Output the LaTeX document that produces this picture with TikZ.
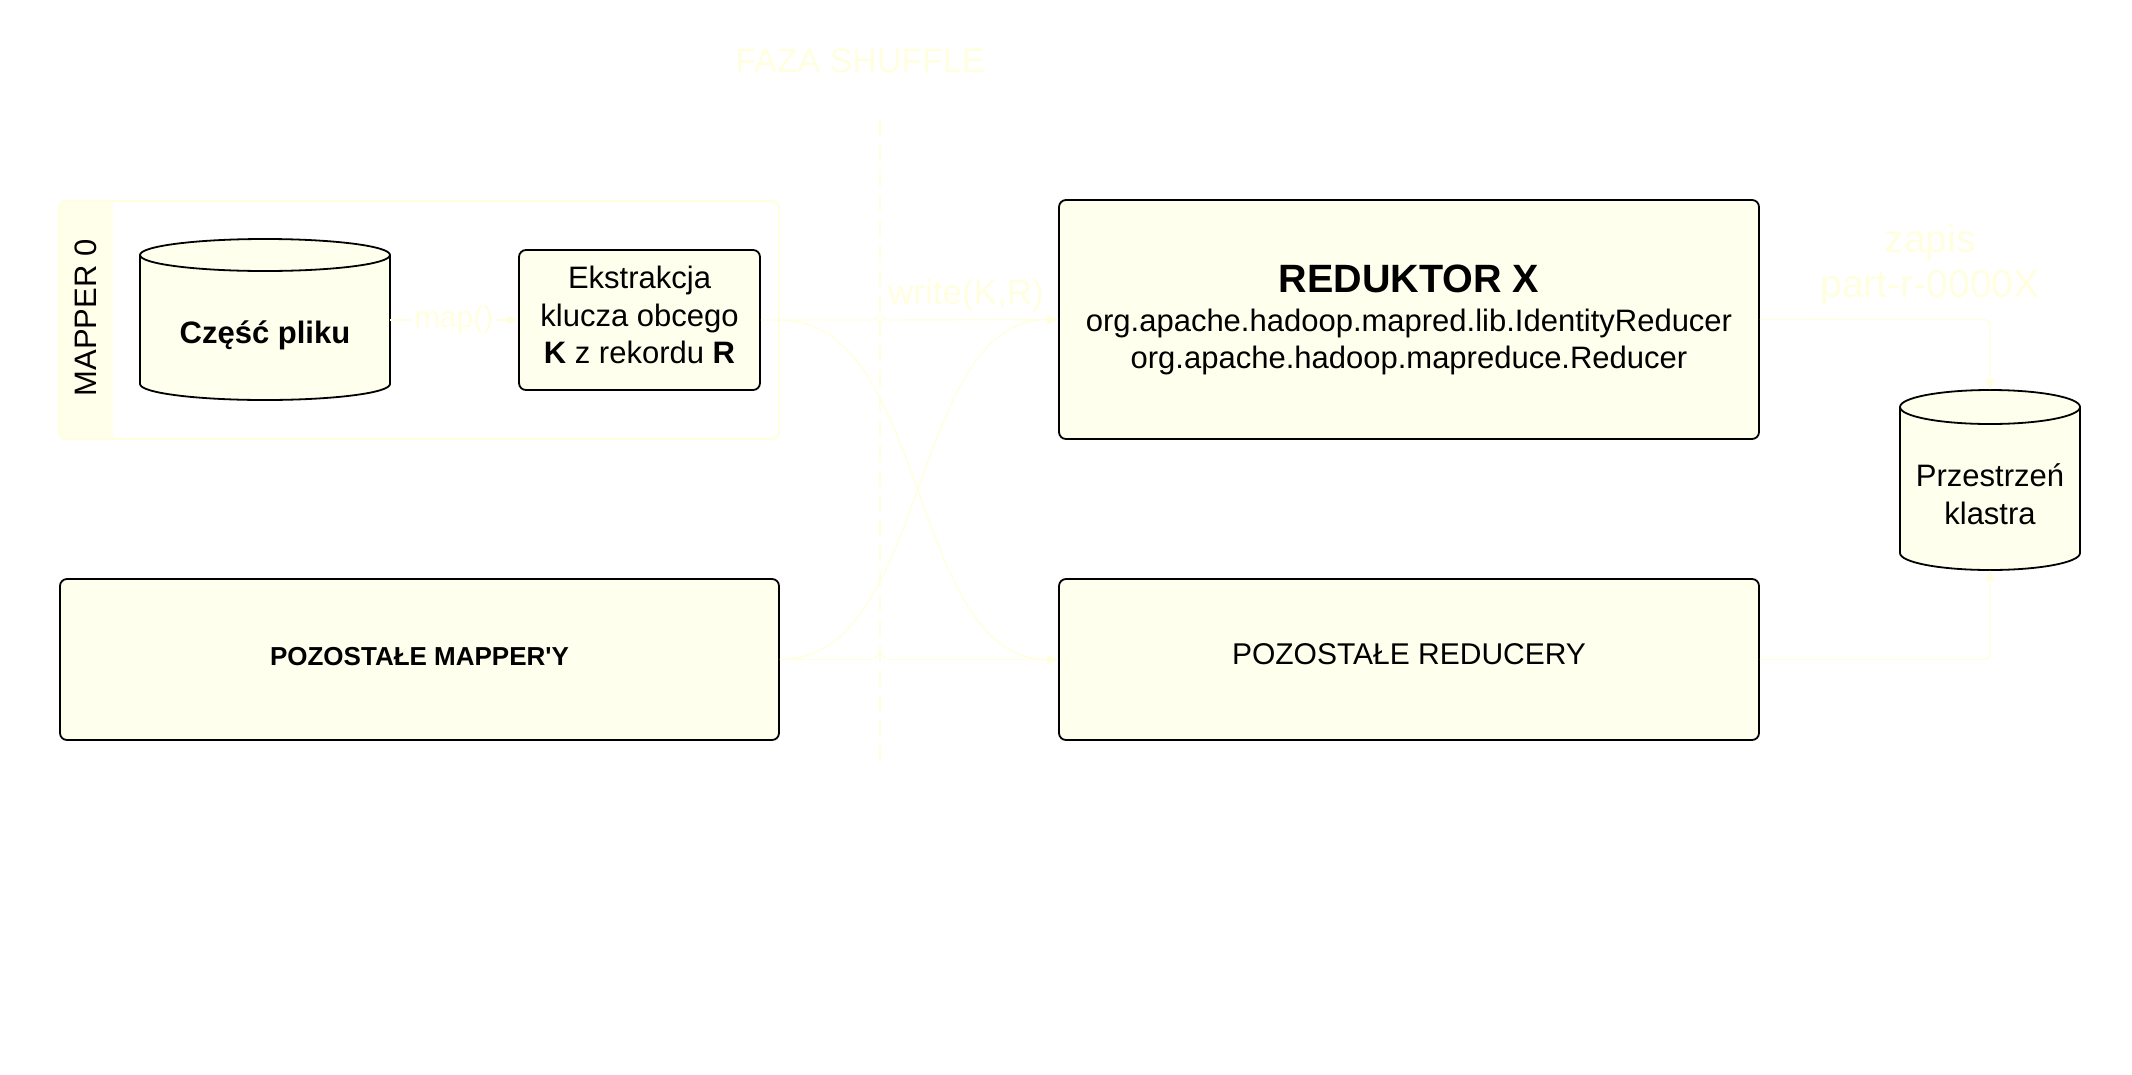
\documentclass[tikz,border=0pt]{standalone}
\usepackage{fontspec}
\setmainfont{Liberation Sans}
\newfontfamily\arialplain{Liberation Sans}
\usetikzlibrary{arrows.meta}
\definecolor{boxfill}{HTML}{FFFFEE}
\definecolor{faint}{HTML}{FFFFE0}
\definecolor{bandfill}{HTML}{FFFFEA}
\tikzset{
  box/.style={draw=black, line width=1.8pt, fill=boxfill, rounded corners=7pt, inner sep=0pt},
  txt/.style={inner sep=0pt, align=center, text=black, font=\fontsize{31}{37.5}\selectfont},
  faintline/.style={draw=faint, line width=1.4pt},
  arr/.style={faintline, -{Triangle[length=11pt,width=9pt]}},
  ftxt/.style={text=faint, inner sep=0pt, align=center},
  cylbody/.style={fill=boxfill, draw=black, line width=1.8pt},
}
\begin{document}
\begin{tikzpicture}[x=1pt,y=-1pt]
\useasboundingbox (0,0) rectangle (2132,1074);

% title
\node[ftxt, font=\fontsize{34}{40}\selectfont] (faza) at (860,61) {FAZA SHUFFLE};

% shuffle divider
\draw[draw=faint, line width=2pt, dash pattern=on 17pt off 8pt] (880,120) -- (880,767);

% mapper 0 container
\begin{scope}
  \clip[rounded corners=7pt] (59,201) rectangle (779,439);
  \fill[bandfill] (59,201) rectangle (113,439);
\end{scope}
\node[draw=faint, line width=2pt, rounded corners=7pt, inner sep=0pt,
      minimum width=720pt, minimum height=238pt] (m0) at (419,320) {};
\node[txt, rotate=90] (m0lab) at (86,318) {MAPPER 0};

% cylinder: Czesc pliku
\node[inner sep=0pt, minimum width=250pt, minimum height=161pt] (cyl1) at (265,319.5) {};
\path[cylbody] (140,255) -- (140,384)
   arc[start angle=180, end angle=360, x radius=125pt, y radius=16pt]
   -- (390,255)
   arc[start angle=0, end angle=180, x radius=125pt, y radius=16pt] -- cycle;
\draw[line width=1.8pt] (140,255) arc[start angle=180, end angle=360, x radius=125pt, y radius=16pt];
\node[txt, font=\bfseries\fontsize{31}{37}\selectfont] (cyl1t) at (265,335) {Część pliku};

% Ekstrakcja
\node[box, minimum width=241pt, minimum height=140pt] (ekst) at (639.5,320) {};
\node[txt] (ekstt) at (639.5,315) {Ekstrakcja\\klucza obcego\\\textbf{K} z rekordu \textbf{R}};

% Reduktor X
\node[box, minimum width=700pt, minimum height=239pt] (red) at (1409,319.5) {};
\node[txt, font=\bfseries\fontsize{39.5}{45}\selectfont] (redt) at (1409,279) {REDUKTOR X};
\node[txt] (redl1) at (1409,323) {org.apache.hadoop.mapred.lib.IdentityReducer};
\node[txt] (redl2) at (1409,360) {org.apache.hadoop.mapreduce.Reducer};

% Pozostale mappery / reducery
\node[box, minimum width=719pt, minimum height=161pt] (pm) at (419.5,659.5) {};
\node[txt, font=\arialplain\bfseries\fontsize{26}{30}\selectfont] (pmt) at (419.5,657) {POZOSTAŁE MAPPER'Y};
\node[box, minimum width=700pt, minimum height=161pt] (pr) at (1409,659.5) {};
\node[txt, font=\fontsize{30}{36}\selectfont] (prt) at (1409,654) {POZOSTAŁE REDUCERY};

% cylinder: Przestrzen klastra
\node[inner sep=0pt, minimum width=180pt, minimum height=180pt] (cyl2) at (1990,480) {};
\path[cylbody] (1900,407) -- (1900,553)
   arc[start angle=180, end angle=360, x radius=90pt, y radius=17pt]
   -- (2080,407)
   arc[start angle=0, end angle=180, x radius=90pt, y radius=17pt] -- cycle;
\draw[line width=1.8pt] (1900,407) arc[start angle=180, end angle=360, x radius=90pt, y radius=17pt];
\node[txt] (cyl2t) at (1990,494) {Przestrzeń\\klastra};

% connectors
\draw[arr] (ekst.west -| cyl1.east) -- node[fill=white, ftxt, inner xsep=3pt, font=\fontsize{30}{34}\selectfont] (maplab) {map()} (ekst.west);
\draw[arr] (ekst.east) -- (875,320) arc[start angle=180, end angle=0, radius=5pt] -- (red.west);
\node[ftxt, anchor=west, font=\fontsize{35}{40}\selectfont] (wkr) at (888,295) {write(K,R)};
\draw[arr] (m0.east |- ekst.east) .. controls +(150,0) and +(-150,0) .. (pr.west);
\draw[arr] (pm.east) .. controls +(150,0) and +(-150,0) .. (red.west);
\draw[arr] (pm.east) -- (875,659.5) arc[start angle=180, end angle=0, radius=5pt] -- (pr.west);
\draw[arr, rounded corners=6pt] (red.east) -| (cyl2.north);
\draw[arr, rounded corners=6pt] (pr.east) -| (cyl2.south);
\node[ftxt, font=\fontsize{39}{45}\selectfont] (zapis) at (1930,265) {zapis\\part-r-0000X};
\end{tikzpicture}
\end{document}
